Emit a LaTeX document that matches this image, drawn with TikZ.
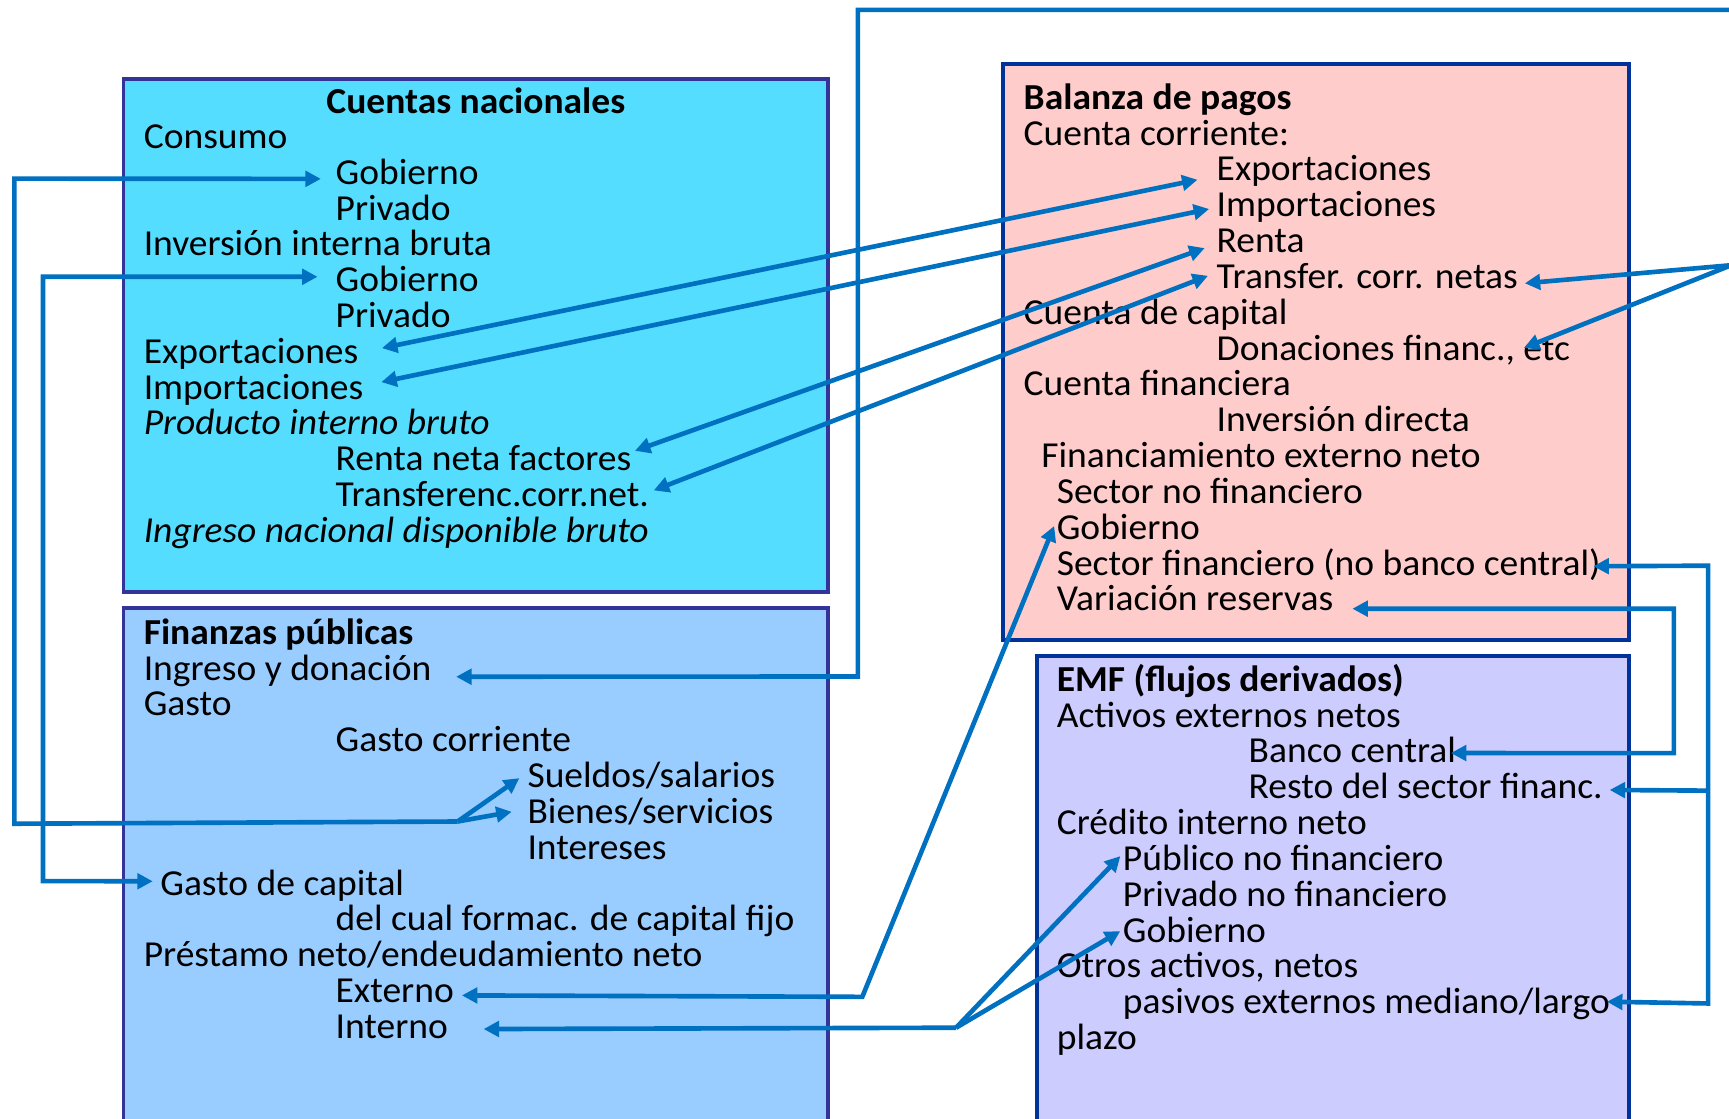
\documentclass[tikz,border=0pt]{standalone}
\usepackage{fontspec}
\setmainfont{Carlito}[FakeStretch=1.025]
\usetikzlibrary{arrows.meta,calc}
\definecolor{arrblue}{HTML}{0070C0}
\definecolor{cnfill}{HTML}{55DDFF}
\definecolor{fpfill}{HTML}{99CCFF}
\definecolor{bpfill}{HTML}{FFCCCC}
\definecolor{emffill}{HTML}{CCCCFF}
\definecolor{bordA}{HTML}{333399}
\definecolor{bordB}{HTML}{003399}
\begin{document}
\begin{tikzpicture}[x=0.5pt,y=-0.5pt,
 txt/.style={anchor=base west,inner sep=0pt,yshift=-0.6pt,font=\fontsize{16.6pt}{20pt}\selectfont},
 hd/.style={txt,font=\fontsize{16.6pt}{20pt}\selectfont\bfseries},
 it/.style={txt,font=\fontsize{16.6pt}{20pt}\selectfont\itshape},
 boxA/.style={draw=bordA,line width=1.8pt},
 boxB/.style={draw=bordB,line width=1.8pt},
 arr/.style={draw=arrblue,line width=2.1pt,-{Triangle[length=7pt,width=7pt]}},
 arrb/.style={draw=arrblue,line width=2.1pt,{Triangle[length=7pt,width=7pt]}-{Triangle[length=7pt,width=7pt]}}]
\useasboundingbox (0,0) rectangle (1568,1014);
\fill[white] (0,0) rectangle (1568,1014);
% boxes
\draw[boxA,fill=cnfill] (112,72) rectangle (751,537);
\draw[boxA,fill=fpfill] (112,551) rectangle (751,1040);
\draw[boxB,fill=bpfill] (910,58) rectangle (1477,580);
\draw[boxB,fill=emffill] (940,595) rectangle (1477,1040);
% Cuentas nacionales
\node[hd,anchor=base] (cnT) at (431.5,101.3) {Cuentas nacionales};
\node[txt] (cnCons) at (130,133.5) {Consumo};
\node[txt] (cnGob1) at (304,166) {Gobierno};
\node[txt] (cnPriv1) at (304,198.4) {Privado};
\node[txt] (cnInv) at (130,230.9) {Inversión interna bruta};
\node[txt] (cnGob2) at (304,263.3) {Gobierno};
\node[txt] (cnPriv2) at (304,295.8) {Privado};
\node[txt] (cnExp) at (130,328.2) {Exportaciones};
\node[txt] (cnImp) at (130,360.7) {Importaciones};
\node[it] (cnPIB) at (130,393.1) {Producto interno bruto};
\node[txt] (cnRenta) at (304,425.6) {Renta neta factores};
\node[txt] (cnTrans) at (304,458) {Transferenc.corr.net.};
\node[it] (cnIng) at (130,490.5) {Ingreso nacional disponible bruto};
% Finanzas publicas
\node[hd] (fpT) at (130,583) {Finanzas públicas};
\node[txt] (fpIng) at (130,615.5) {Ingreso y donación};
\node[txt] (fpGasto) at (130,648) {Gasto};
\node[txt] (fpGC) at (304,680.5) {Gasto corriente};
\node[txt] (fpSuel) at (478,713) {Sueldos/salarios};
\node[txt] (fpBien) at (478,745.5) {Bienes/servicios};
\node[txt] (fpInt) at (478,778) {Intereses};
\node[txt] (fpGK) at (145,810.5) {Gasto de capital};
\node[txt] (fpFCF) at (304,843) {del cual formac. de capital fijo};
\node[txt] (fpPres) at (130,875.5) {Préstamo neto/endeudamiento neto};
\node[txt] (fpExt) at (304,908) {Externo};
\node[txt] (fpInto) at (304,940.5) {Interno};
% Balanza de pagos
\node[hd] (bpT) at (928,97.8) {Balanza de pagos};
\node[txt] (bpCC) at (928,130.3) {Cuenta corriente:};
\node[txt] (bpExp) at (1103,162.8) {Exportaciones};
\node[txt] (bpImp) at (1103,195.3) {Importaciones};
\node[txt] (bpRen) at (1103,227.8) {Renta};
\node[txt] (bpTra) at (1103,260.3) {Transfer. corr. netas};
\node[txt] (bpCK) at (928,292.8) {Cuenta de capital};
\node[txt] (bpDon) at (1103,325.3) {Donaciones financ., etc};
\node[txt] (bpCF) at (928,357.8) {Cuenta financiera};
\node[txt] (bpID) at (1103,390.3) {Inversión directa};
\node[txt] (bpFin) at (944,422.8) {Financiamiento externo neto};
\node[txt] (bpSNF) at (958,455.3) {Sector no financiero};
\node[txt] (bpGob) at (958,487.8) {Gobierno};
\node[txt] (bpSF) at (958,520.3) {Sector financiero (no banco central)};
\node[txt] (bpVar) at (958,552.8) {Variación reservas};
% EMF
\node[hd] (emT) at (958,625.7) {EMF (flujos derivados)};
\node[txt] (emAEN) at (958,658.2) {Activos externos netos};
\node[txt] (emBC) at (1132,690.7) {Banco central};
\node[txt] (emRes) at (1132,723.2) {Resto del sector financ.};
\node[txt] (emCIN) at (958,755.7) {Crédito interno neto};
\node[txt] (emPub) at (1018,788.2) {Público no financiero};
\node[txt] (emPriv) at (1018,820.7) {Privado no financiero};
\node[txt] (emGob) at (1018,853.2) {Gobierno};
\node[txt] (emOtr) at (958,885.7) {Otros activos, netos};
\node[txt] (emPas) at (1018,918.2) {pasivos externos mediano/largo};
\node[txt] (emPl) at (958,950.7) {plazo};
% connectors
\coordinate (b1) at (415,745);
\draw[arr] (b1) -- (13,747) -- (13,162) -- ($(cnGob1.base west)+(-13,-5)$);
\draw[arr] (b1) -- ($(fpSuel.base west)+(-7,-8.5)$);
\draw[arr] (b1) -- ($(fpBien.base west)+(-14,-10.5)$);
\draw[arrb] ($(cnGob2.base west)+(-16,-13.5)$) -- (39,251) -- (39,799) -- ($(fpGK.base west)+(-6.5,-12.5)$);
\draw[arrb] ($(cnExp.base east)+(21,-13.7)$) -- ($(bpExp.base west)+(-17,-1)$);
\draw[arrb] ($(cnImp.base east)+(16,-15.4)$) -- ($(bpImp.base west)+(-6.5,-7)$);
\draw[arrb] ($(cnRenta.base east)+(3,-18)$) -- ($(bpRen.base west)+(-10.5,-4)$);
\draw[arrb] ($(cnTrans.base east)+(4,-14.5)$) -- ($(bpTra.base west)+(-7.5,-11.4)$);
\coordinate (topR) at (1590,9);
\draw[arr] (topR) -- (778,9) -- (778,613.5) -- ($(fpIng.base east)+(22,-3)$);
\coordinate (ap) at (1570,240.5);
\draw[arr] (ap) -- ($(bpTra.base east)+(6,-4.6)$);
\draw[arr] (ap) -- ($(bpDon.base west)+(279,-11)$);
\draw[arrb] ($(fpExt.base east)+(7,-6.5)$) -- (782,904) -- ($(bpGob.base west)+(-2,-12)$);
\coordinate (b2) at (867,932);
\draw[arr] (b2) -- ($(fpInto.base east)+(32,-8.5)$);
\draw[arr] (b2) -- ($(emPub.base west)+(-2,-13)$);
\draw[arr] (b2) -- ($(emGob.base west)+(-2,-10)$);
\coordinate (b3) at (1549,717);
\draw[arrb] ($(bpSF.base east)+(-7,-8)$) -- (1549,513) -- (1549,910) -- ($(emPas.base east)+(-3,-11)$);
\draw[arr] (b3) -- ($(emRes.base east)+(6,-8)$);
\draw[arrb] ($(bpVar.base east)+(17,-2)$) -- (1518,552) -- (1518,683) -- ($(emBC.base east)+(-5,-9)$);
\end{tikzpicture}
\end{document}
